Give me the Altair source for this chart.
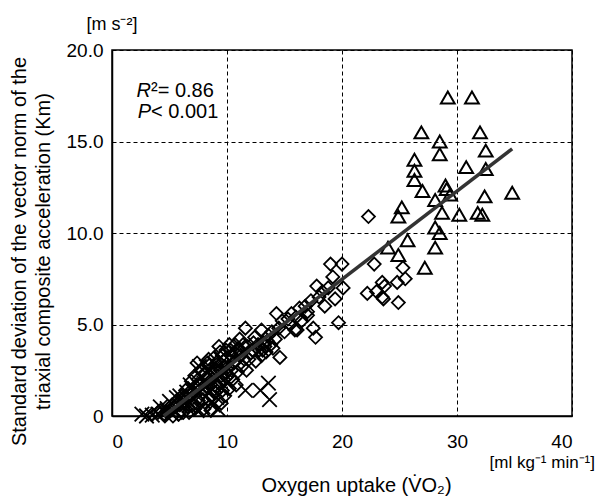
import altair as alt
import pandas as pd

# ---- data ----
cross_x = [2.6, 3.0, 3.5, 4.0, 4.2, 4.8, 5.0, 5.2, 5.5, 5.6, 5.9, 6.0, 6.2, 6.5, 6.8, 6.8, 7.0, 7.2,
           7.4, 7.5, 7.6, 7.8, 7.9, 8.0, 8.2, 8.4, 8.5, 8.7, 8.8, 9.0, 9.1, 9.2, 9.5, 9.6, 10.0,
           11.6, 12.9, 13.6, 13.7]
cross_y = [0.1, 0.0, 0.05, 0.1, 0.5, 0.4, 0.8, 0.1, 0.2, 1.0, 1.1, 0.5, 0.9, 1.3, 1.7, 0.7, 1.0, 1.5,
           0.3, 1.2, 2.7, 2.1, 0.5, 1.8, 2.7, 2.4, 1.3, 0.8, 0.6, 2.0, 1.0, 0.4, 1.5, 2.5, 1.8,
           1.4, 1.4, 1.8, 0.9]

diam_x = [3.5, 4.0, 4.5, 4.6, 5.0, 5.5, 5.8, 6.0, 6.3, 6.5, 6.8, 7.0, 7.3, 7.4, 7.4, 7.5, 7.8, 8.0,
          8.0, 8.2, 8.3, 8.4, 8.5, 8.6, 8.7, 8.7, 8.9, 9.0, 9.2, 9.3, 9.4, 9.5, 9.5, 9.6, 9.6, 9.8,
          9.8, 10.0, 10.1, 10.2, 10.3, 10.5, 10.6, 10.8, 10.8, 11.0, 11.0, 11.1, 11.3, 11.5, 11.6,
          11.7, 11.8, 12.0, 12.3, 12.5, 12.8, 13.0, 13.0, 13.3, 13.5, 13.8, 14.2, 14.3, 14.6, 15.0,
          15.6, 15.5, 15.9, 16.1, 16.5, 17.0, 17.0, 17.5, 17.7, 17.8, 18.3, 18.5, 19.0, 19.4, 19.7,
          20.0, 20.1, 22.2, 22.3, 22.8, 23.0, 23.5, 23.5, 23.7, 23.6, 24.8, 24.9, 25.3, 25.5,
          4.2, 4.8, 5.2, 5.6, 5.9, 6.1, 6.4, 6.6, 6.9, 7.1, 7.2, 7.6, 7.7, 7.9, 8.1, 8.3, 8.4, 8.6,
          8.8, 8.9, 9.1, 9.1, 9.3, 9.4, 9.7, 9.7, 9.9, 9.9, 10.1, 10.2, 10.4, 10.4, 10.7, 10.7,
          10.9, 11.2, 11.4, 11.9, 12.2, 12.4, 12.7, 13.1, 13.2, 13.4, 13.6, 13.9, 14.0, 14.5, 14.8,
          15.3, 16.0, 16.3, 16.8, 17.3, 18.0, 18.8, 19.2, 6.2, 7.2, 5.3, 6.7]
diam_y = [0.1, 0.2, 0.1, 0.0, 0.3, 0.5, 0.1, 0.3, 0.8, 1.0, 1.2, 0.6, 1.6, 2.9, 0.9, 2.0, 1.2, 2.3,
          0.4, 1.6, 2.9, 0.9, 2.8, 0.3, 2.0, 1.1, 1.3, 2.6, 3.0, 1.8, 3.5, 2.2, 0.7, 3.3, 1.4, 2.7,
          1.1, 3.2, 2.2, 1.5, 3.6, 2.0, 2.9, 3.4, 1.7, 3.6, 3.7, 4.2, 2.7, 3.1, 4.8,
          2.5, 3.8, 3.4, 4.0, 3.0, 3.6, 4.7, 3.3, 3.8, 4.1, 3.9, 4.2, 5.6, 3.2, 4.6,
          5.6, 5.0, 4.7, 4.7, 5.2, 5.5, 5.7, 4.8, 4.3, 7.1, 6.8, 6.0, 8.3, 6.4, 5.1,
          8.3, 7.0, 6.7, 10.9, 8.3, 6.8, 7.3, 6.5, 7.1, 6.4, 7.3, 6.2, 8.1, 7.5,
          0.3, 0.2, 0.6, 0.8, 0.6, 1.1, 1.4, 0.5, 1.9, 1.3, 2.2, 1.7, 2.5, 0.9, 1.4, 2.0, 3.1, 1.7,
          2.4, 3.2, 1.6, 2.8, 3.8, 2.5, 2.0, 3.0, 3.6, 2.4, 2.7, 3.9, 2.5, 3.3, 3.0, 3.9,
          2.4, 3.3, 3.9, 3.1, 3.6, 4.3, 3.9, 3.6, 4.0, 3.5, 4.4, 4.6, 3.7, 4.8, 5.2,
          5.3, 5.4, 5.9, 6.0, 6.3, 6.5, 7.0, 7.6, 0.2, 0.4, 0.0, 0.2]

tri_x = [29.2, 31.3, 26.9, 28.5, 28.5, 32.0, 32.5, 30.8, 32.5, 26.3, 26.3, 26.3, 27.0, 29.1, 29.4,
         29.0, 28.1, 28.7, 32.4, 34.8, 30.2, 31.8, 32.2, 25.2, 24.9, 28.1, 28.5, 25.7, 28.1, 24.9,
         27.2, 24.0]
tri_y = [17.4, 17.4, 15.5, 15.0, 14.3, 15.5, 14.5, 13.6, 13.5, 14.0, 13.4, 12.9, 12.3, 12.4, 12.1,
         12.6, 11.8, 11.1, 12.0, 12.2, 11.0, 11.1, 11.0, 11.4, 10.9, 10.3, 10.0, 9.6, 9.2, 8.8,
         8.1, 9.2]

line_x = [4.5, 34.8]
line_y = [0.0, 14.6]

x_ticks = [0, 10, 20, 30, 40]
y_ticks = [0, 5, 10, 15, 20]

FONT = "Liberation Sans"
W, H = 460, 366

crosses = pd.DataFrame({"x": cross_x, "y": cross_y})
diamonds = pd.DataFrame({"x": diam_x, "y": diam_y})
triangles = pd.DataFrame({"x": tri_x, "y": tri_y})
reg = pd.DataFrame({"x": line_x, "y": line_y})

xscale = alt.Scale(domain=[0, 40], nice=False, zero=False)
yscale = alt.Scale(domain=[0, 20], nice=False, zero=False)

x_enc = alt.X("x:Q", scale=xscale, axis=alt.Axis(
    values=x_ticks, grid=True, gridDash=[4, 3], gridColor="black", gridWidth=1,
    ticks=False, tickSize=0, labelFontSize=19, labelFont=FONT, labelColor="black",
    labelPadding=31, labelBaseline="alphabetic", domainColor="black", domainWidth=1.5,
    title="Oxygen uptake (V\u0307O\u2082)", titleFont=FONT, titleFontSize=20,
    titleFontWeight="normal", titleColor="black", titleX=244, titleY=75,
    titleBaseline="alphabetic", titleAlign="center"))
y_enc = alt.Y("y:Q", scale=yscale, axis=alt.Axis(
    values=y_ticks, grid=True, gridDash=[4, 3], gridColor="black", gridWidth=1,
    ticks=False, tickSize=0, labelFontSize=19, labelFont=FONT, labelColor="black",
    labelPadding=9, labelExpr="datum.value == 0 ? '0' : format(datum.value, '.1f')",
    domainColor="black", domainWidth=1.5,
    title=["Standard deviation of the vector norm of the",
           "triaxial composite acceleration (Km)"],
    titleFont=FONT, titleFontSize=20, titleFontWeight="normal", titleColor="black",
    titleAngle=-90, titleX=-103, titleY=201, titleAlign="center", titleBaseline="top",
    titleLineHeight=24))

xs = alt.X("x:Q", scale=xscale)
ys = alt.Y("y:Q", scale=yscale)

cross_layer = alt.Chart(crosses).mark_point(
    shape="M-1,-1L1,1M1,-1L-1,1", size=210, color="black", strokeWidth=1.8,
    filled=False, opacity=1
).encode(x=x_enc, y=y_enc)

diam_layer = alt.Chart(diamonds).mark_point(
    shape="diamond", size=170, color="black", strokeWidth=1.8, filled=False, opacity=1
).encode(x=xs, y=ys)

tri_layer = alt.Chart(triangles).mark_point(
    shape="triangle-up", size=190, color="black", strokeWidth=2, filled=False, opacity=1
).encode(x=xs, y=ys)

line_layer = alt.Chart(reg).mark_line(color="#333", strokeWidth=3.5).encode(x=xs, y=ys)

def txt(s, px, py, size=19, align="left", style="normal"):
    return alt.Chart(pd.DataFrame({"t": [s]})).mark_text(
        font=FONT, fontSize=size, align=align, baseline="alphabetic",
        fontStyle=style, color="black"
    ).encode(text="t:N", x=alt.value(px), y=alt.value(py))

annot = [
    txt("R", 39, 47, 20, "right", "italic"),
    txt("\u00b2= 0.86", 39, 47, 20, "left"),
    txt("P", 39, 68, 20, "right", "italic"),
    txt("\u00a0< 0.001", 39, 68, 20, "left"),
    txt("[m s\u207b\u00b2]", 0, -20, 18, "center"),
    txt("[ml kg\u207b\u00b9 min\u207b\u00b9]", 483, 418, 17, "right"),
]

chart = alt.layer(cross_layer, diam_layer, tri_layer, line_layer, *annot).properties(
    width=W, height=H,
    autosize=alt.AutoSizeParams(type="none"),
    padding={"left": 104, "top": 42, "right": 24, "bottom": 80},
    background="white",
).configure_view(stroke="black", strokeWidth=1.5)

chart.save("out.html", embed_options={"renderer": "svg", "actions": False})
